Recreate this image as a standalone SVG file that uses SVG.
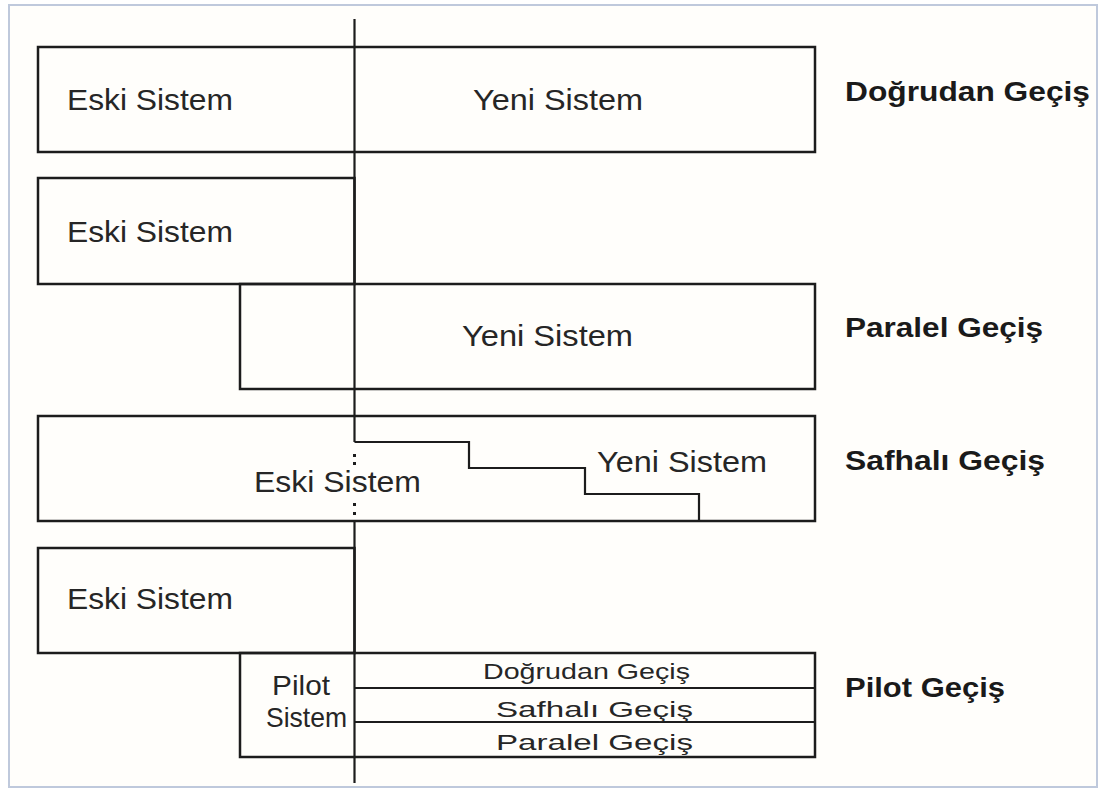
<svg xmlns="http://www.w3.org/2000/svg" width="1102" height="794" viewBox="0 0 1102 794">
<style>
.box{fill:none;stroke:#1c1c1c;stroke-width:2.5}
.ln{fill:none;stroke:#1c1c1c;stroke-width:2.2}
.t{font-family:"Liberation Sans",Arial,sans-serif;fill:#262626;font-size:30px}
.s{font-family:"Liberation Sans",Arial,sans-serif;fill:#262626;font-size:22px}
.p{font-family:"Liberation Sans",Arial,sans-serif;fill:#262626;font-size:28px}
.b{font-family:"Liberation Sans",Arial,sans-serif;fill:#1a1a1a;font-size:27px;font-weight:bold}
</style>
<rect x="0" y="0" width="1102" height="794" fill="#ffffff"/>
<rect x="9" y="5" width="1088" height="782" fill="#fffefb" stroke="#bfc9dc" stroke-width="2"/>

<g id="connectors">
  <line class="ln" x1="354.5" y1="19" x2="354.5" y2="442"/>
  <line class="ln" x1="354.5" y1="521" x2="354.5" y2="783"/>
  <rect x="353" y="454" width="3" height="3" fill="#1c1c1c"/>
  <rect x="353" y="462" width="3" height="3" fill="#1c1c1c"/>
  <rect x="353" y="503" width="3" height="3" fill="#1c1c1c"/>
  <rect x="353" y="512" width="3" height="3" fill="#1c1c1c"/>
</g>

<g id="dogrudan">
  <rect class="box" x="38" y="47" width="777" height="105"/>
  <text class="t" x="67" y="110" textLength="166" lengthAdjust="spacingAndGlyphs">Eski Sistem</text>
  <text class="t" x="473" y="110" textLength="170" lengthAdjust="spacingAndGlyphs">Yeni Sistem</text>
  <text class="b" x="845" y="101" textLength="245" lengthAdjust="spacingAndGlyphs">Doğrudan Geçiş</text>
</g>

<g id="paralel">
  <rect class="box" x="38" y="178" width="316.5" height="106"/>
  <text class="t" x="67" y="242" textLength="166" lengthAdjust="spacingAndGlyphs">Eski Sistem</text>
  <rect class="box" x="240" y="284" width="575" height="105"/>
  <text class="t" x="462" y="346" textLength="171" lengthAdjust="spacingAndGlyphs">Yeni Sistem</text>
  <text class="b" x="845" y="337" textLength="198" lengthAdjust="spacingAndGlyphs">Paralel Geçiş</text>
</g>

<g id="safhali">
  <rect class="box" x="38" y="416" width="777" height="105"/>
  <polyline class="ln" points="354.5,442 469,442 469,468 585,468 585,494 699,494 699,521"/>
  <text class="t" x="254" y="492" textLength="167" lengthAdjust="spacingAndGlyphs">Eski Sistem</text>
  <text class="t" x="597" y="472" textLength="170" lengthAdjust="spacingAndGlyphs">Yeni Sistem</text>
  <text class="b" x="845" y="470" textLength="200" lengthAdjust="spacingAndGlyphs">Safhalı Geçiş</text>
</g>

<g id="pilot">
  <rect class="box" x="38" y="548" width="316.5" height="105"/>
  <text class="t" x="67" y="609" textLength="166" lengthAdjust="spacingAndGlyphs">Eski Sistem</text>
  <rect class="box" x="240" y="653" width="575" height="104"/>
  <line class="ln" x1="354.5" y1="688" x2="815" y2="688"/>
  <line class="ln" x1="354.5" y1="722" x2="815" y2="722"/>
  <text class="p" x="272" y="695" textLength="58" lengthAdjust="spacingAndGlyphs">Pilot</text>
  <text class="p" x="266" y="727" textLength="81" lengthAdjust="spacingAndGlyphs">Sistem</text>
  <text class="s" x="483" y="679" textLength="207" lengthAdjust="spacingAndGlyphs">Doğrudan Geçiş</text>
  <text class="s" x="496" y="717" textLength="197" lengthAdjust="spacingAndGlyphs">Safhalı Geçiş</text>
  <text class="s" x="496" y="750" textLength="197" lengthAdjust="spacingAndGlyphs">Paralel Geçiş</text>
  <text class="b" x="845" y="697" textLength="160" lengthAdjust="spacingAndGlyphs">Pilot Geçiş</text>
</g>
</svg>
